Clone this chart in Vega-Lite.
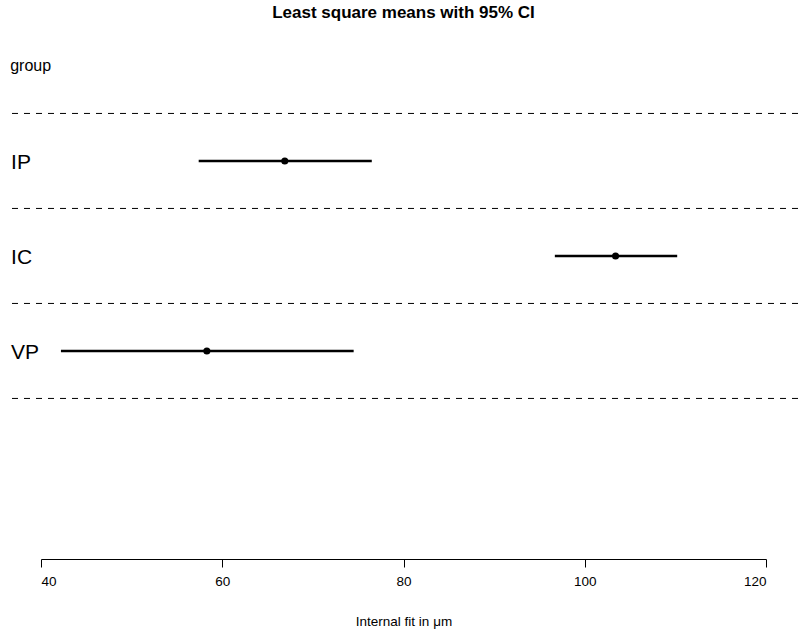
{
  "$schema": "https://vega.github.io/schema/vega-lite/v6.json",
  "width": 725,
  "height": 532,
  "autosize": {"type": "none"},
  "padding": {"left": 41, "top": 27, "right": 34, "bottom": 76},
  "background": "white",
  "config": {"font": "Liberation Sans", "view": {"stroke": null}},
  "title": {"text": "Least square means with 95% CI", "fontSize": 17, "fontWeight": "bold", "font": "Liberation Sans", "color": "black", "anchor": "middle", "offset": 5},
  "datasets": {
    "lsm": [
      {"group": "IP", "pos": 1, "lsmean": 66.9, "lower": 57.4, "upper": 76.5},
      {"group": "IC", "pos": 2, "lsmean": 103.4, "lower": 96.7, "upper": 110.2},
      {"group": "VP", "pos": 3, "lsmean": 58.3, "lower": 42.2, "upper": 74.5}
    ],
    "separators": [{"pos": 0.5}, {"pos": 1.5}, {"pos": 2.5}, {"pos": 3.5}],
    "header": [{"label": "group", "pos": 0}]
  },
  "layer": [
    {
      "data": {"name": "separators"},
      "mark": {"type": "rule", "strokeDash": [6, 6], "strokeWidth": 1, "color": "black", "clip": false},
      "encoding": {
        "y": {"field": "pos", "type": "quantitative", "scale": {"domain": [-0.41, 5.19], "reverse": true, "nice": false, "zero": false}, "axis": null},
        "x": {"datum": 36.8, "type": "quantitative", "scale": {"domain": [40, 120], "nice": false, "zero": false}},
        "x2": {"datum": 123.75}
      }
    },
    {
      "data": {"name": "lsm"},
      "mark": {"type": "rule", "strokeWidth": 2.5, "color": "black"},
      "encoding": {
        "y": {"field": "pos", "type": "quantitative"},
        "x": {"field": "lower", "type": "quantitative",
          "axis": {"values": [40, 60, 80, 100, 120], "grid": false, "domainColor": "black", "domainWidth": 1, "tickColor": "black", "tickSize": 8, "tickWidth": 1, "labelFontSize": 13.5, "labelColor": "black", "labelPadding": 7, "labelFont": "Liberation Sans", "title": "Internal fit in μm", "titleFontSize": 13.5, "titleFontWeight": "normal", "titleColor": "black", "titleFont": "Liberation Sans", "titlePadding": 27}},
        "x2": {"field": "upper"}
      }
    },
    {
      "data": {"name": "lsm"},
      "mark": {"type": "point", "filled": true, "size": 50, "color": "black", "opacity": 1},
      "encoding": {
        "y": {"field": "pos", "type": "quantitative"},
        "x": {"field": "lsmean", "type": "quantitative"}
      }
    },
    {
      "data": {"name": "lsm"},
      "mark": {"type": "text", "align": "left", "baseline": "middle", "fontSize": 21, "color": "black", "clip": false, "dy": 2},
      "encoding": {
        "y": {"field": "pos", "type": "quantitative"},
        "x": {"datum": 36.7, "type": "quantitative"},
        "text": {"field": "group"}
      }
    },
    {
      "data": {"name": "header"},
      "mark": {"type": "text", "align": "left", "baseline": "middle", "fontSize": 16, "color": "black", "clip": false},
      "encoding": {
        "y": {"field": "pos", "type": "quantitative"},
        "x": {"datum": 36.6, "type": "quantitative"},
        "text": {"field": "label"}
      }
    }
  ]
}
